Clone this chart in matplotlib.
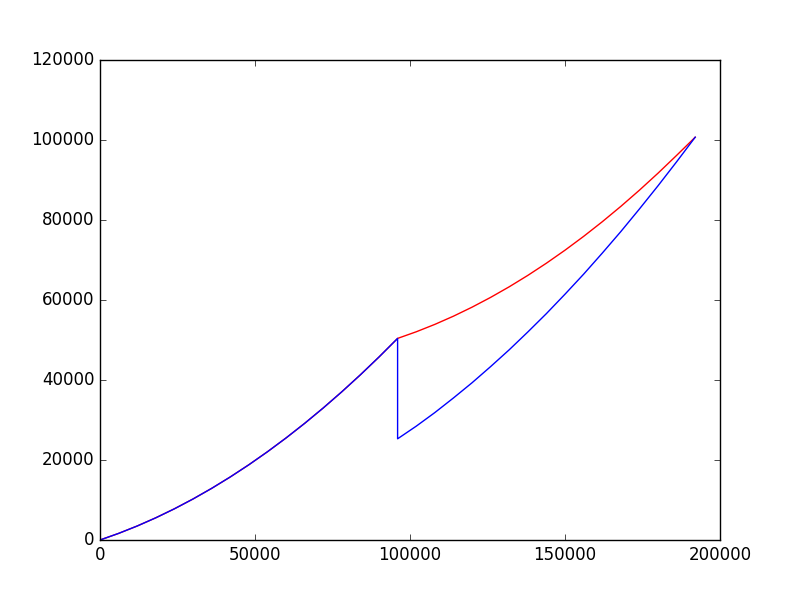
import matplotlib
matplotlib.use("Agg")
import matplotlib.pyplot as plt

# first segment (shared by both series)
x_first = [0, 6000, 12000, 18000, 24000, 30000, 36000, 42000, 48000,
           54000, 60000, 66000, 72000, 78000, 84000, 90000, 96000]
y_first = [0, 1650, 3500, 5550, 7800, 10250, 12900, 15750, 18800,
           22050, 25500, 29150, 33000, 37050, 41300, 45750, 50400]

# second segment
x_second = [96000, 102000, 108000, 114000, 120000, 126000, 132000, 138000, 144000,
            150000, 156000, 162000, 168000, 174000, 180000, 186000, 192000]
red_second = [50400, 52050, 53900, 55950, 58200, 60650, 63300, 66150, 69200,
              72450, 75900, 79550, 83400, 87450, 91700, 96150, 100700]
blue_second = [25300, 28450, 31850, 35500, 39300, 43350, 47550, 52000, 56600,
               61450, 66450, 71700, 77100, 82750, 88550, 94550, 100700]

red_x = x_first + x_second[1:]
red_y = y_first + red_second[1:]
blue_x = x_first + x_second
blue_y = y_first + blue_second

plt.style.use('classic')
fig = plt.figure(figsize=(8, 6), dpi=100)
ax = fig.add_axes([0.125, 0.1, 0.775, 0.8])
ax.plot(red_x, red_y, color='red', linewidth=1.0)
ax.plot(blue_x, blue_y, color='blue', linewidth=1.0)
ax.set_xlim(0, 200000)
ax.set_ylim(0, 120000)
ax.set_xticks([0, 50000, 100000, 150000, 200000])
ax.set_yticks([0, 20000, 40000, 60000, 80000, 100000, 120000])
ax.ticklabel_format(style='plain', useOffset=False)
fig.savefig('out.png', dpi=100, facecolor='white')
